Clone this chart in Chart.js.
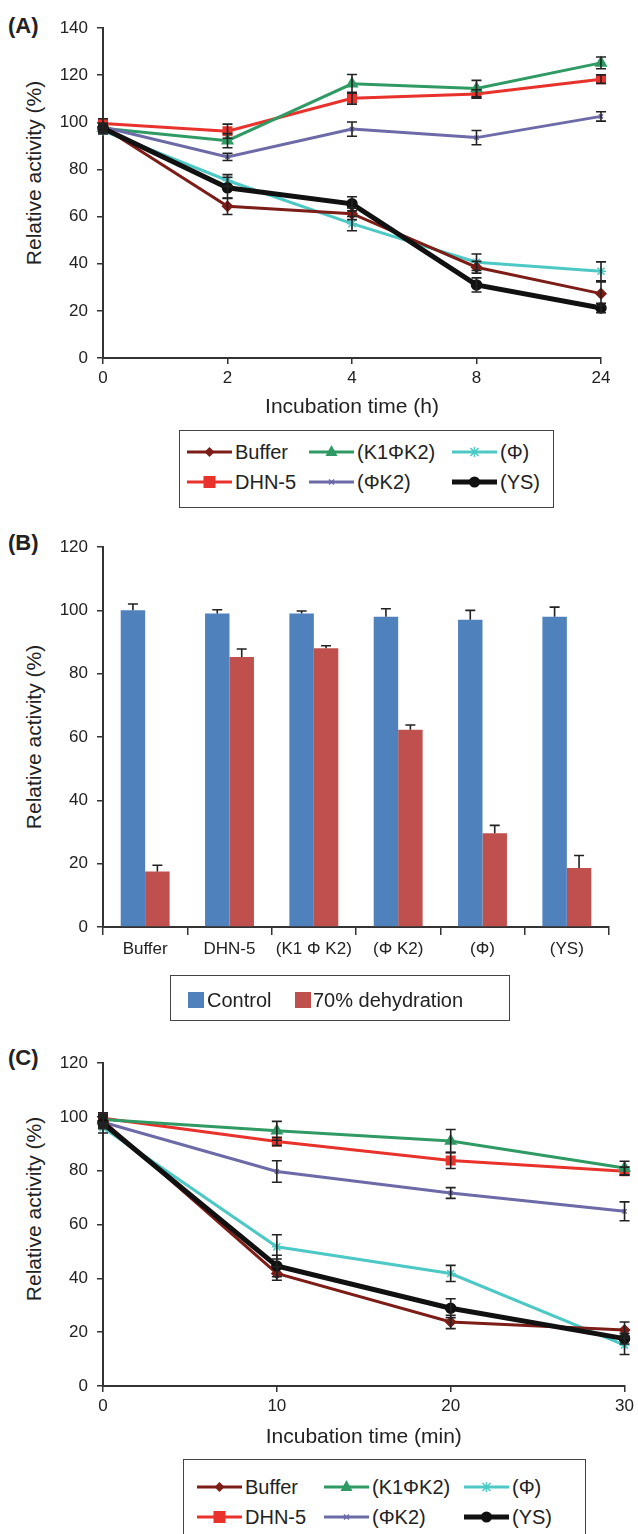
<!DOCTYPE html>
<html><head><meta charset="utf-8">
<script src="https://cdn.jsdelivr.net/npm/chart.js@4.4.1/dist/chart.umd.min.js"></script>
<style>
html,body{margin:0;padding:0;background:#fff;width:638px;height:1534px;overflow:hidden;font-family:"Liberation Sans",Arial,sans-serif;color:#222;}
canvas{position:absolute;left:0;}
.plabel{position:absolute;font-weight:bold;font-size:22px;line-height:22px;transform:translateY(-50%);}
.ytitle{position:absolute;font-size:21px;line-height:21px;white-space:nowrap;transform:translate(-50%,-50%) rotate(-90deg);}
.legbox{position:absolute;border:1.5px solid #444;box-sizing:border-box;}
.legtxt{position:absolute;font-size:20px;line-height:20px;white-space:nowrap;transform:translateY(-50%);}
.legsvg{position:absolute;}
</style></head><body>

<div class="plabel" style="left:8px;top:26px;">(A)</div>
<div class="plabel" style="left:8px;top:543px;">(B)</div>
<div class="plabel" style="left:8px;top:1058px;">(C)</div>

<div class="ytitle" style="left:33px;top:173px;">Relative activity (%)</div>
<div class="ytitle" style="left:33px;top:737px;">Relative activity (%)</div>
<div class="ytitle" style="left:33px;top:1209px;">Relative activity (%)</div>

<canvas id="chartA" width="638" height="420" style="top:0px;"></canvas>
<canvas id="chartB" width="638" height="450" style="top:520px;"></canvas>
<canvas id="chartC" width="638" height="430" style="top:1020px;"></canvas>

<div class="legbox" style="left:179px;top:430px;width:375px;height:78px;"></div>
<div class="legbox" style="left:170px;top:975px;width:340px;height:46px;"></div>
<div class="legbox" style="left:183px;top:1459px;width:403px;height:90px;"></div>
<div id="legends"></div>

<script>
// ---------- DATA ----------
const seriesNames = ['Buffer', 'DHN-5', '(K1\u03A6K2)', '(\u03A6K2)', '(\u03A6)', '(YS)'];

// Panel A: incubation time (h)
const timeLabelsA = ['0', '2', '4', '8', '24'];
const bufferA   = [98.0, 64.4, 61.2, 38.5, 27.3];
const dhn5A     = [99.5, 96.2, 110.2, 112.0, 118.3];
const k1phik2A  = [97.5, 92.2, 116.3, 114.3, 125.2];
const phik2A    = [98.0, 85.3, 97.1, 93.5, 102.5];
const phiA      = [96.5, 75.3, 57.0, 40.6, 36.8];
const ysA       = [97.5, 72.2, 65.4, 31.0, 21.2];
const bufferErrA  = [1.5, 3.5, 2.5, 2.5, 5.0];
const dhn5ErrA    = [2.0, 3.0, 2.5, 1.8, 1.8];
const k1phik2ErrA = [2.0, 3.0, 4.0, 3.5, 2.5];
const phik2ErrA   = [1.5, 1.5, 3.0, 3.0, 2.0];
const phiErrA     = [1.5, 2.5, 3.0, 3.5, 4.0];
const ysErrA      = [1.5, 4.5, 3.0, 3.0, 2.0];
const yTicksA = [0, 140, 20]; // min, max, step

// Panel B: 70% dehydration
const barCategoriesB = ['Buffer', 'DHN-5', '(K1 \u03A6 K2)', '(\u03A6 K2)', '(\u03A6)', '(YS)'];
const barSeriesNamesB = ['Control', '70% dehydration'];
const controlB    = [100, 99, 99, 98, 97, 98];
const controlErrB = [2.0, 1.2, 0.8, 2.5, 3.0, 3.0];
const dehydB      = [17.5, 85.3, 88.0, 62.3, 29.6, 18.6];
const dehydErrB   = [2.0, 2.5, 0.8, 1.5, 2.5, 4.0];
const yTicksB = [0, 120, 20];

// Panel C: incubation time (min)
const timeLabelsC = ['0', '10', '20', '30'];
const bufferC   = [98.5, 41.8, 23.8, 20.8];
const dhn5C     = [99.5, 90.8, 83.8, 79.8];
const k1phik2C  = [99.0, 94.8, 91.0, 81.0];
const phik2C    = [98.0, 79.7, 71.7, 64.9];
const phiC      = [96.0, 51.7, 41.8, 15.2];
const ysC       = [97.6, 44.6, 28.9, 17.6];
const bufferErrC  = [2.0, 2.5, 2.5, 3.0];
const dhn5ErrC    = [2.0, 1.5, 3.0, 1.5];
const k1phik2ErrC = [2.0, 3.5, 4.3, 2.5];
const phik2ErrC   = [2.0, 4.0, 2.0, 3.5];
const phiErrC     = [2.0, 4.5, 3.0, 3.5];
const ysErrC      = [2.0, 4.0, 3.5, 2.0];
const yTicksC = [0, 120, 20];

// ---------- STYLES ----------
const seriesStyles = [
  {color:'#7d1d18', point:'rectRot',  radius:5, width:3,   order:1},
  {color:'#e8322b', point:'rect',     radius:6, width:3,   order:5},
  {color:'#2f9a64', point:'triangle', radius:6, width:3,   order:4},
  {color:'#6d6aa8', point:'crossRot', radius:3, width:3,   order:3},
  {color:'#4cc9c5', point:'star',     radius:5, width:3,   order:2},
  {color:'#111111', point:'circle',   radius:5, width:5,   order:0}
];
const barColors = ['#4f81bd', '#c0504d'];
const FONT = '"Liberation Sans", Arial, sans-serif';
Chart.defaults.font.family = FONT;
Chart.defaults.color = '#222';

const errorBarPlugin = {
  id: 'errorBars',
  afterDatasetsDraw(chart, args, opts) {
    const ctx = chart.ctx, ys = chart.scales.y;
    ctx.save();
    ctx.strokeStyle = '#222';
    ctx.lineWidth = 1.6;
    chart.data.datasets.forEach((ds, di) => {
      if (!ds.errors) return;
      const meta = chart.getDatasetMeta(di);
      meta.data.forEach((el, i) => {
        const v = ds.data[i], e = ds.errors[i];
        const x = el.x;
        const yTop = ys.getPixelForValue(v + e);
        const yBot = opts.upOnly ? ys.getPixelForValue(v) : ys.getPixelForValue(v - e);
        const w = opts.cap || 5;
        ctx.beginPath();
        ctx.moveTo(x, yTop); ctx.lineTo(x, yBot);
        ctx.moveTo(x - w, yTop); ctx.lineTo(x + w, yTop);
        if (!opts.upOnly) { ctx.moveTo(x - w, yBot); ctx.lineTo(x + w, yBot); }
        ctx.stroke();
      });
    });
    ctx.restore();
  }
};

function yAxis(ticksDef, yWidth) {
  return {
    min: ticksDef[0], max: ticksDef[1],
    border: {display:true, color:'#333', width:2},
    grid: {display:true, drawOnChartArea:false, drawTicks:true, tickLength:6, color:'#333', lineWidth:1.5},
    ticks: {stepSize: ticksDef[2], color:'#222', padding:9, font:{size:17}},
    afterFit: s => { s.width = yWidth; }
  };
}
function xAxis(axisHeight, title, extra) {
  return Object.assign({
    border: {display:true, color:'#333', width:2},
    grid: {display:true, drawOnChartArea:false, drawTicks:true, tickLength:6, color:'#333', lineWidth:1.5},
    ticks: {color:'#222', padding:4, font:{size:17}, maxRotation:0, autoSkip:false},
    title: title ? {display:true, text:title, color:'#222', font:{size:21}, padding:{top:0, bottom:0}} : {display:false},
    afterFit: s => { s.height = axisHeight; }
  }, extra || {});
}

function makeLineChart(id, labels, values, errors, yDef, pad, axisHeight, title) {
  const datasets = values.map((vals, i) => {
    const st = seriesStyles[i];
    return {
      label: seriesNames[i], data: vals, errors: errors[i],
      borderColor: st.color, backgroundColor: st.color,
      borderWidth: st.width, pointStyle: st.point, pointRadius: st.radius,
      pointBorderColor: st.color, pointBackgroundColor: st.color, pointBorderWidth: 1.5,
      tension: 0, order: st.order
    };
  });
  return new Chart(document.getElementById(id), {
    type: 'line',
    data: {labels, datasets},
    options: {
      responsive:false, maintainAspectRatio:false, animation:false, devicePixelRatio:1,
      layout: {padding: pad},
      plugins: {legend:{display:false}, tooltip:{enabled:false}, errorBars:{cap:5}},
      scales: {
        x: xAxis(axisHeight, title, {type:'category', offset:false}),
        y: yAxis(yDef, 103)
      }
    },
    plugins: [errorBarPlugin]
  });
}

makeLineChart('chartA', timeLabelsA,
  [bufferA, dhn5A, k1phik2A, phik2A, phiA, ysA],
  [bufferErrA, dhn5ErrA, k1phik2ErrA, phik2ErrA, phiErrA, ysErrA],
  yTicksA, {top:28, right:37, left:0, bottom:0}, 62, 'Incubation time (h)');

makeLineChart('chartC', timeLabelsC,
  [bufferC, dhn5C, k1phik2C, phik2C, phiC, ysC],
  [bufferErrC, dhn5ErrC, k1phik2ErrC, phik2ErrC, phiErrC, ysErrC],
  yTicksC, {top:43, right:13, left:0, bottom:0}, 64, 'Incubation time (min)');

new Chart(document.getElementById('chartB'), {
  type: 'bar',
  data: {
    labels: barCategoriesB,
    datasets: [
      {label: barSeriesNamesB[0], data: controlB, errors: controlErrB, backgroundColor: barColors[0], borderWidth:0, categoryPercentage:0.58, barPercentage:1.0},
      {label: barSeriesNamesB[1], data: dehydB, errors: dehydErrB, backgroundColor: barColors[1], borderWidth:0, categoryPercentage:0.58, barPercentage:1.0}
    ]
  },
  options: {
    responsive:false, maintainAspectRatio:false, animation:false, devicePixelRatio:1,
    layout: {padding: {top:27, right:29, left:0, bottom:0}},
    plugins: {legend:{display:false}, tooltip:{enabled:false}, errorBars:{cap:5, upOnly:true}},
    scales: {
      x: xAxis(43, null, {type:'category', grid:{display:true, drawOnChartArea:false, drawTicks:true, tickLength:8, color:'#333', lineWidth:1.5, offset:true}}),
      y: yAxis(yTicksB, 103)
    }
  },
  plugins: [errorBarPlugin]
});

// ---------- HTML LEGENDS ----------
const legendRoot = document.getElementById('legends');
function markerSvg(i) {
  const st = seriesStyles[i], c = st.color, w = st.width;
  let m = '';
  const cx = 22.5, cy = 12;
  switch (st.point) {
    case 'rectRot': m = `<polygon points="${cx},${cy-5} ${cx+5},${cy} ${cx},${cy+5} ${cx-5},${cy}" fill="${c}"/>`; break;
    case 'rect': m = `<rect x="${cx-6}" y="${cy-6}" width="12" height="12" fill="${c}"/>`; break;
    case 'triangle': m = `<polygon points="${cx},${cy-7} ${cx+6},${cy+4} ${cx-6},${cy+4}" fill="${c}"/>`; break;
    case 'crossRot': m = `<path d="M${cx-2.5} ${cy-2.5}L${cx+2.5} ${cy+2.5}M${cx+2.5} ${cy-2.5}L${cx-2.5} ${cy+2.5}" stroke="${c}" stroke-width="1.5"/>`; break;
    case 'star': m = `<path d="M${cx-4} ${cy-4}L${cx+4} ${cy+4}M${cx+4} ${cy-4}L${cx-4} ${cy+4}M${cx} ${cy-5}L${cx} ${cy+5}" stroke="${c}" stroke-width="1.5"/>`; break;
    case 'circle': m = `<circle cx="${cx}" cy="${cy}" r="5.5" fill="${c}"/>`; break;
  }
  return `<svg width="45" height="24" xmlns="http://www.w3.org/2000/svg"><line x1="0" y1="${cy}" x2="45" y2="${cy}" stroke="${c}" stroke-width="${w}"/>${m}</svg>`;
}
function addLineLegend(cols, rows) {
  // column-major: col0 = Buffer, DHN-5; col1 = K1ΦK2, ΦK2; col2 = Φ, YS
  for (let i = 0; i < seriesNames.length; i++) {
    const col = Math.floor(i / 2), row = i % 2;
    const x = cols[col], y = rows[row];
    const s = document.createElement('div');
    s.className = 'legsvg'; s.style.left = x + 'px'; s.style.top = (y - 12) + 'px';
    s.innerHTML = markerSvg(i);
    legendRoot.appendChild(s);
    const t = document.createElement('div');
    t.className = 'legtxt'; t.style.left = (x + 48) + 'px'; t.style.top = y + 'px';
    t.textContent = seriesNames[i];
    legendRoot.appendChild(t);
  }
}
addLineLegend([187, 309, 452], [452, 482]);
addLineLegend([197, 324, 464], [1487, 1517]);

// bar legend
[[188, 207], [295, 313]].forEach((p, i) => {
  const sq = document.createElement('div');
  sq.style.cssText = `position:absolute;left:${p[0]}px;top:992px;width:16px;height:16px;background:${barColors[i]};`;
  legendRoot.appendChild(sq);
  const t = document.createElement('div');
  t.className = 'legtxt'; t.style.left = p[1] + 'px'; t.style.top = '1000px';
  t.textContent = barSeriesNamesB[i];
  legendRoot.appendChild(t);
});
</script>
</body></html>
